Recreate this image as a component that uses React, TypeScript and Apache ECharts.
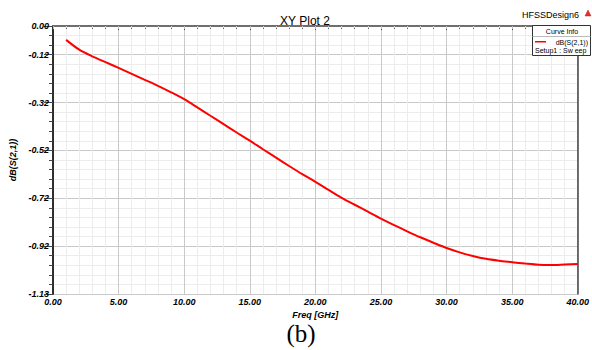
import React, { useEffect, useRef } from "react";
import * as echarts from "echarts";

const freqGHz = [1, 2, 3, 4, 5, 6, 7, 8, 9, 10, 11, 12, 13, 14, 15, 16, 17, 18, 19, 20, 21, 22, 23, 24, 25, 26, 27, 28, 29, 30, 31, 32, 33, 34, 35, 36, 37, 38, 39, 40];
const dbS21 = [-0.058, -0.099, -0.127, -0.151, -0.175, -0.2, -0.225, -0.25, -0.277, -0.306, -0.34, -0.375, -0.41, -0.445, -0.479, -0.515, -0.55, -0.585, -0.619, -0.651, -0.685, -0.718, -0.747, -0.776, -0.805, -0.832, -0.858, -0.883, -0.906, -0.928, -0.946, -0.961, -0.973, -0.981, -0.987, -0.993, -0.998, -0.999, -0.997, -0.995];
const yTickLabels = ["-1.13", "-0.92", "-0.72", "-0.52", "-0.32", "-0.12", "0.00"];
const xTickLabels = ["0.00", "5.00", "10.00", "15.00", "20.00", "25.00", "30.00", "35.00", "40.00"];

const FONT = "'Liberation Sans', Arial, sans-serif";
const MAJOR = "#c9c9c9";
const MINOR = "#ececec";

export default function App() {
  const ref = useRef<HTMLDivElement>(null);
  useEffect(() => {
    if (!ref.current) return;
    const chart = echarts.init(ref.current, undefined, { renderer: "svg" });
    const labelStyle = {
      fontFamily: FONT,
      fontSize: 9,
      fontWeight: "bold" as const,
      fontStyle: "italic" as const,
      color: "#000",
    };
    chart.setOption({
      animation: false,
      backgroundColor: "#fff",
      grid: { left: 52, right: 9, top: 26, bottom: 56 },
      title: {
        text: "XY Plot 2",
        left: 300,
        top: 10,
        textAlign: "center",
        textStyle: { fontFamily: FONT, fontSize: 12, fontWeight: "normal", color: "#000" },
      },
      xAxis: [
        {
          type: "value",
          position: "bottom",
          min: 0,
          max: 40,
          interval: 5,
          name: "Freq [GHz]",
          nameLocation: "middle",
          nameGap: 11,
          nameTextStyle: { ...labelStyle },
          axisLine: { lineStyle: { color: "#222", width: 1.5 } },
          axisTick: { show: true, length: 4, lineStyle: { color: "#444" } },
          minorTick: { show: true, splitNumber: 5, length: 3, lineStyle: { color: "#666" } },
          axisLabel: {
            ...labelStyle,
            margin: 3,
            formatter: (_v: number, i: number) => xTickLabels[i] ?? "",
          },
          splitLine: { show: true, lineStyle: { color: MAJOR, width: 1 } },
          minorSplitLine: { show: true, lineStyle: { color: MINOR, width: 1 } },
        },
        {
          type: "value",
          position: "top",
          min: 0,
          max: 40,
          interval: 5,
          axisLine: { lineStyle: { color: "#777", width: 1.5 } },
          axisTick: { show: true, inside: true, length: 3, lineStyle: { color: "#bbb" } },
          minorTick: { show: true, splitNumber: 5, length: 2, lineStyle: { color: "#ccc" } },
          axisLabel: { show: false },
          splitLine: { show: false },
        },
      ],
      yAxis: [
        {
          type: "value",
          position: "left",
          min: -1.12,
          max: 0,
          interval: 0.04,
          axisLine: { show: true, lineStyle: { color: "#222", width: 1.5 } },
          axisTick: { show: true, length: 4, lineStyle: { color: "#444" } },
          axisLabel: { show: false },
          splitLine: { show: true, lineStyle: { color: [MAJOR, MINOR, MINOR, MINOR, MINOR], width: 1 } },
        },
        {
          type: "value",
          position: "left",
          min: -1.12,
          max: 0,
          interval: 0.2,
          name: "dB(S(2,1))",
          nameLocation: "middle",
          nameGap: 36,
          nameTextStyle: { ...labelStyle },
          axisLine: { show: true, lineStyle: { color: "#222", width: 1.5 } },
          axisTick: { show: true, length: 9, lineStyle: { color: "#444" } },
          axisLabel: {
            ...labelStyle,
            margin: 4,
            formatter: (_v: number, i: number) => yTickLabels[i] ?? "",
          },
          splitLine: { show: false },
        },
        {
          type: "value",
          position: "right",
          min: -1.12,
          max: 0,
          interval: 0.04,
          axisLine: { show: true, lineStyle: { color: "#444", width: 1.5 } },
          axisTick: { show: false },
          axisLabel: { show: false },
          splitLine: { show: false },
        },
      ],
      series: [
        {
          type: "line",
          name: "dB(S(2,1))",
          xAxisIndex: 0,
          yAxisIndex: 0,
          data: freqGHz.map((f, i) => [f, dbS21[i]]),
          showSymbol: false,
          smooth: 0.3,
          lineStyle: { color: "#ff0000", width: 2 },
        },
      ],
      graphic: [
        {
          type: "text",
          left: 522,
          top: 10,
          style: { text: "HFSSDesign6", fontFamily: FONT, fontSize: 9, fill: "#000" },
        },
        {
          type: "polygon",
          shape: { points: [[588, 10], [585, 16], [591, 16]] },
          style: { fill: "#e03030", stroke: "#c02020", lineWidth: 0.5 },
        },
        {
          type: "rect",
          shape: { x: 532.5, y: 25.5, width: 58, height: 30 },
          style: { fill: "#fff", stroke: "#333", lineWidth: 1 },
          z: 100,
        },
        {
          type: "line",
          shape: { x1: 532.5, y1: 36.5, x2: 590.5, y2: 36.5 },
          style: { stroke: "#bbb", lineWidth: 1 },
          z: 101,
        },
        {
          type: "text",
          x: 562,
          y: 31,
          style: { text: "Curve Info", fontFamily: FONT, fontSize: 7, fill: "#000", align: "center", verticalAlign: "middle" },
          z: 101,
        },
        {
          type: "rect",
          shape: { x: 535, y: 41, width: 11, height: 1.5 },
          style: { fill: "#ff0000" },
          z: 102,
        },
        {
          type: "text",
          x: 588,
          y: 42,
          style: { text: "dB(S(2,1))", fontFamily: FONT, fontSize: 7, fill: "#000", align: "right", verticalAlign: "middle" },
          z: 101,
        },
        {
          type: "text",
          x: 535,
          y: 50,
          style: { text: "Setup1 : Sw eep", fontFamily: FONT, fontSize: 7, fill: "#000", align: "left", verticalAlign: "middle" },
          z: 101,
        },
        {
          type: "text",
          x: 301,
          y: 333,
          style: { text: "(b)", fontFamily: "'Liberation Serif', 'Times New Roman', serif", fontSize: 25, fill: "#000", align: "center", verticalAlign: "middle" },
        },
      ],
    });
    return () => chart.dispose();
  }, []);
  return <div ref={ref} style={{ width: 592, height: 350, position: "absolute", left: 0, top: 0 }} />;
}
